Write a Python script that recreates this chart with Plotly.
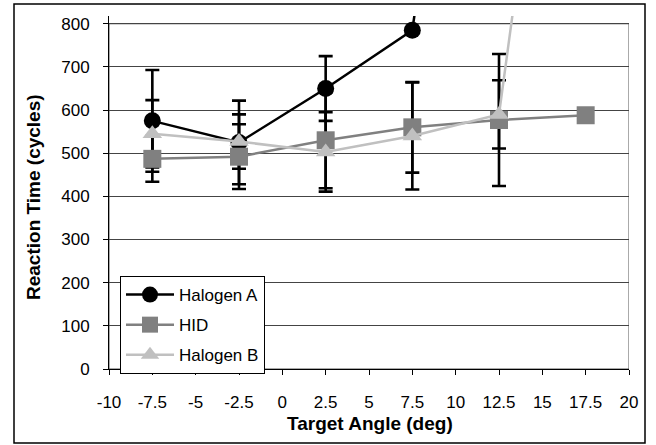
import plotly.graph_objects as go

# ---------------- data ----------------
angles = [-7.5, -2.5, 2.5, 7.5, 12.5, 17.5]

halogen_a = [575, 525, 650, 785, 2200, None]
halogen_a_err = [118, 97, 75, None, None, None]

hid = [487, 492, 530, 560, 577, 588]
hid_err = [53, 75, 111, 105, 153, None]

halogen_b = [545, 527, 503, 540, 590, 2070]
halogen_b_err = [78, 63, 92, 124, 79, None]

series_names = ["Halogen A", "HID", "Halogen B"]
x_tickvals = [-10, -7.5, -5, -2.5, 0, 2.5, 5, 7.5, 10, 12.5, 15, 17.5, 20]
x_ticktext = ["-10", "-7.5", "-5", "-2.5", "0", "2.5", "5", "7.5", "10", "12.5", "15", "17.5", "20"]
y_tickvals = [0, 100, 200, 300, 400, 500, 600, 700, 800]

x_title = "Target Angle (deg)"
y_title = "Reaction Time (cycles)"

# ---------------- layout geometry (px) ----------------
W, H = 656, 445
ML, MR, MT, MB = 109, 27, 16, 76
PW, PH = W - ML - MR, H - MT - MB


def px_x(p):
    return (p - ML) / PW


def px_y(p):
    return (H - MB - p) / PH


FONT = "Liberation Sans, Arial, sans-serif"

fig = go.Figure()

# error bars first (so markers are drawn on top)
for ys, errs in [(halogen_a, halogen_a_err), (hid, hid_err), (halogen_b, halogen_b_err)]:
    fig.add_trace(go.Scatter(
        x=angles, y=ys, mode="markers",
        marker=dict(size=1, opacity=0),
        error_y=dict(type="data", array=errs, symmetric=True,
                     color="black", thickness=2.6, width=7),
        showlegend=False, hoverinfo="skip", cliponaxis=False,
    ))

styles = [
    dict(color="#000000", symbol="circle", size=17),
    dict(color="#808080", symbol="square", size=18),
    dict(color="#C0C0C0", symbol="triangle-up", size=17),
]
for i, (name, ys, st) in enumerate(zip(series_names, [halogen_a, hid, halogen_b], styles)):
    fig.add_trace(go.Scatter(
        x=angles, y=ys, name=name, mode="lines+markers",
        line=dict(color=st["color"], width=2.5),
        marker=dict(color=st["color"], symbol=st["symbol"], size=st["size"]),
        legendgroup=f"g{i}", cliponaxis=False,
    ))

fig.update_layout(
    width=W, height=H,
    margin=dict(l=ML, r=MR, t=MT, b=MB, pad=0),
    paper_bgcolor="white", plot_bgcolor="white",
    font=dict(family=FONT, color="black", size=17),
    showlegend=True,
    legend=dict(
        x=px_x(120), y=px_y(276), xanchor="left", yanchor="top",
        bgcolor="white", bordercolor="black", borderwidth=1,
        font=dict(family=FONT, size=17, color="black"),
        tracegroupgap=5, itemwidth=48,
    ),
    xaxis=dict(
        range=[-10, 20], tickvals=x_tickvals, ticktext=x_ticktext,
        showgrid=False, zeroline=False,
        showline=True, linecolor="black", linewidth=1,
        ticks="outside", ticklen=5, tickcolor="black", tickwidth=1,
        tickfont=dict(family=FONT, size=17, color="black"),
        ticklabelstandoff=13,
    ),
    yaxis=dict(
        range=[0, 818], tickvals=y_tickvals,
        showgrid=True, gridcolor="#444444", gridwidth=1,
        zeroline=False,
        showline=True, linecolor="black", linewidth=1,
        ticks="outside", ticklen=5, tickcolor="black", tickwidth=1,
        tickfont=dict(family=FONT, size=17, color="black"),
        ticklabelstandoff=10,
    ),
    shapes=[
        # plot area border
        dict(type="rect", xref="x", yref="y", x0=-10, x1=20, y0=0, y1=800,
             line=dict(color="#555555", width=1), layer="below"),
        # outer chart frame
        dict(type="rect", xref="paper", yref="paper",
             x0=px_x(14), x1=px_x(645), y0=px_y(443), y1=px_y(4),
             line=dict(color="black", width=1.5)),
    ],
    annotations=[
        dict(text=f"<b>{x_title}</b>", xref="paper", yref="paper",
             x=px_x(370), y=px_y(423), xanchor="center", yanchor="middle",
             showarrow=False, font=dict(family=FONT, size=19, color="black")),
        dict(text=f"<b>{y_title}</b>", xref="paper", yref="paper",
             x=px_x(33), y=px_y(197), xanchor="center", yanchor="middle",
             textangle=-90, showarrow=False,
             font=dict(family=FONT, size=19, color="black")),
    ],
)

fig.write_html("out.html")
